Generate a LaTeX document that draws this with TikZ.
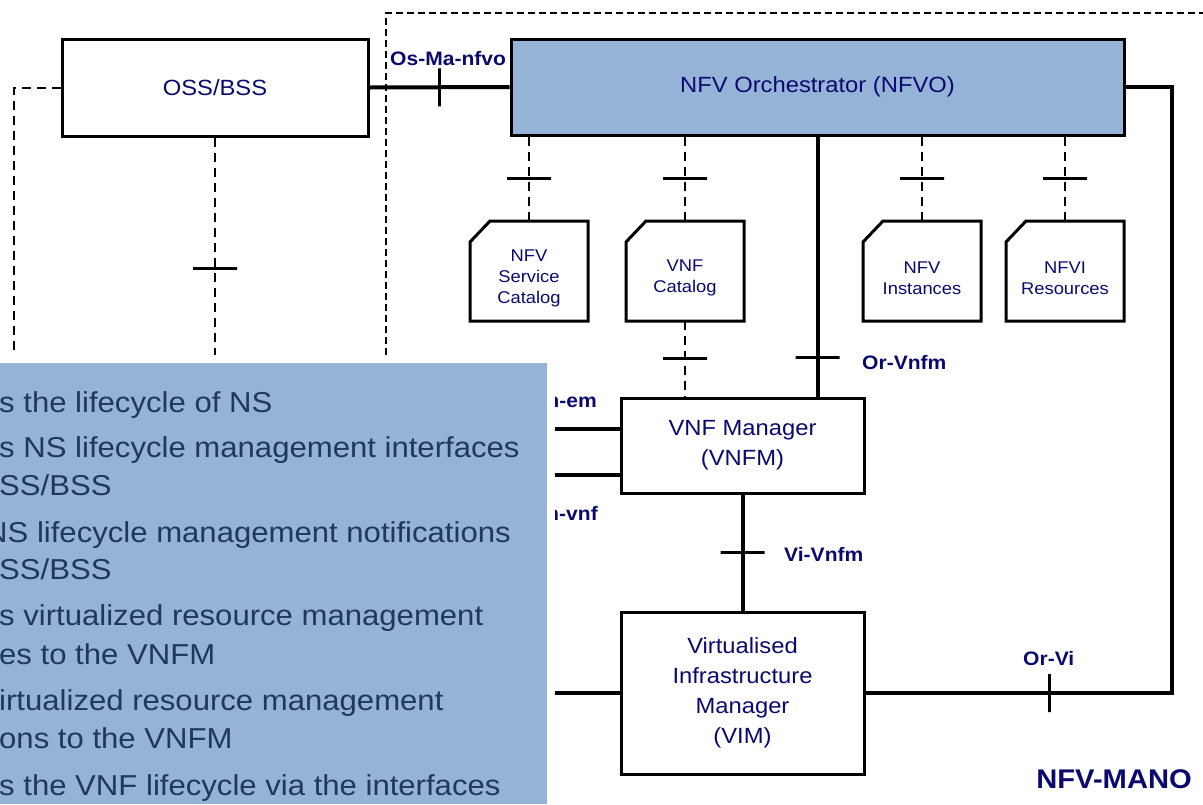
\documentclass[tikz,border=0pt]{standalone}
\usepackage{fontspec}
\setmainfont{Liberation Sans}[FakeStretch=1.08]
\usetikzlibrary{positioning}

\definecolor{navy}{RGB}{10,10,110}
\definecolor{nfvblue}{RGB}{149,179,215}
\definecolor{notetext}{RGB}{31,56,92}

\newcommand{\boxfnt}{\fontsize{22}{30}\selectfont}
\newcommand{\catfnt}{\fontsize{17}{21}\selectfont}
\newcommand{\lblfnt}{\fontsize{19.5}{22}\selectfont\bfseries}
\newcommand{\manofnt}{\fontsize{27}{30}\selectfont\bfseries}
\newcommand{\notefnt}{\fontsize{28.8}{34}\selectfont}

\begin{document}
\begin{tikzpicture}[x=1pt, y=-1pt,
  box/.style={draw, line width=3pt, align=center, font=\boxfnt, text=navy, inner sep=0pt},
  store/.style={align=center, font=\catfnt, text=navy, inner sep=0pt},
  iface/.style={line width=4pt},
  refp/.style={line width=2pt, dash pattern=on 9pt off 6pt},
  hbar/.style={draw, solid, line width=3pt, minimum width=44pt, minimum height=0pt, inner sep=0pt, outer sep=0pt},
  vbar/.style={draw, solid, line width=3pt, minimum width=0pt, minimum height=38pt, inner sep=0pt, outer sep=0pt},
  lbl/.style={font=\lblfnt, text=navy, inner sep=0pt},
  note/.style={font=\notefnt, text=notetext, anchor=base west, inner sep=0pt}]

\useasboundingbox (0,0) rectangle (1203,804);

% NFV-MANO frame
\coordinate (frm) at (386,355);
\draw[line width=2pt, dash pattern=on 7pt off 4pt] (frm) |- (1210,13);

% functional blocks
\node[box, minimum width=306pt, minimum height=97pt] (oss) at (215,87.5) {OSS/BSS};
\node[box, fill=nfvblue, minimum width=613pt, minimum height=96pt] (nfvo) at (817.5,87) {NFV Orchestrator (NFVO)};
\node[box, minimum width=243pt, minimum height=95pt] (vnfm) at (742.5,445.5) {VNF Manager\\(VNFM)};
\node[box, minimum width=243pt, minimum height=162pt] (vim) at (742.5,693) {Virtualised\\Infrastructure\\Manager\\(VIM)};

% repositories
\node[store] (nsc) at (529,278) {NFV\\Service\\Catalog};
\node[store] (vnfc) at (685,278) {VNF\\Catalog};
\node[store] (nfvi) at (922,278) {NFV\\Instances};
\node[store] (res) at (1065,278) {NFVI\\Resources};
\foreach \s in {nsc,vnfc,nfvi,res} {
  \draw[line width=3pt] ([shift={(-59pt,-43pt)}]\s.center) -- ++(0pt,79pt) -- ++(20pt,21pt) -- ++(98pt,0pt) -- ++(0pt,-100pt) -- cycle;
  \coordinate (\s-top) at ([yshift=57pt]\s.center);
  \draw[refp] (\s-top |- nfvo.south) -- node[hbar] (\s-bar) {} (\s-top);
}
\coordinate (vnfcbot) at ([yshift=-43pt]vnfc.center);
\draw[refp] (vnfcbot) -- node[hbar] (vnfcbar) {} (vnfcbot |- vnfm.north);

% reference points
\draw[iface] (oss.east) -- node[vbar] (osbar) {} (nfvo.west);
\node[lbl, anchor=base west] (osma) at (390,65) {Os-Ma-nfvo};

\coordinate (ossend) at (215,355);
\coordinate (ossleft) at (14,355);
\draw[refp] (oss.south) -- node[hbar, pos=0.6] (ossbar) {} (ossend);
\draw[refp] (oss.west) -| (ossleft);

\draw[iface] (nfvo.south) -- node[hbar, pos=0.85] (orbar) {} (nfvo.south |- vnfm.north);
\node[lbl, anchor=base west] (orvnfm) at (862,369) {Or-Vnfm};

\draw[iface] (vnfm.south) -- node[hbar] (vibar) {} (vim.north);
\node[lbl, anchor=base west] (vivnfm) at (784,561) {Vi-Vnfm};

\coordinate (orvicorner) at (1172,693);
\draw[iface] (vim.east) -- node[vbar, pos=0.6] (orvibar) {} (orvicorner) |- (nfvo.east);
\node[lbl, anchor=base west] (orvi) at (1023,665) {Or-Vi};

\coordinate (vem) at (540,429);
\coordinate (vvnf) at (540,475);
\coordinate (nfvil) at (540,693);
\draw[iface] (vem) -- (vem -| vnfm.west);
\draw[iface] (vvnf) -- (vvnf -| vnfm.west);
\draw[iface] (nfvil) -- (vim.west);
\node[lbl, anchor=base east] (veem) at (597,407) {Ve-Vnfm-em};
\node[lbl, anchor=base east] (vevnf) at (598,520) {Ve-Vnfm-vnf};

\node[font=\manofnt, text=navy, anchor=base east, inner sep=0pt] (mano) at (1192,788) {NFV-MANO};

% note panel
\fill[white] (0,355) rectangle (555,804);
\fill[nfvblue] (0,363) rectangle (547,804);
\node[note] (n1) at (-1,412) {s the lifecycle of NS};
\node[note] (n2) at (-1,457) {s NS lifecycle management interfaces};
\node[note] (n3) at (-1,495) {SS/BSS};
\node[note] (n4) at (-15,542) {NS lifecycle management notifications};
\node[note] (n5) at (-1,579) {SS/BSS};
\node[note] (n6) at (-1,625) {s virtualized resource management};
\node[note] (n7) at (-1,664) {es to the VNFM};
\node[note] (n8) at (-1,710) {irtualized resource management};
\node[note] (n9) at (-1,748) {ons to the VNFM};
\node[note] (n10) at (-1,795) {s the VNF lifecycle via the interfaces};
\end{tikzpicture}
\end{document}
